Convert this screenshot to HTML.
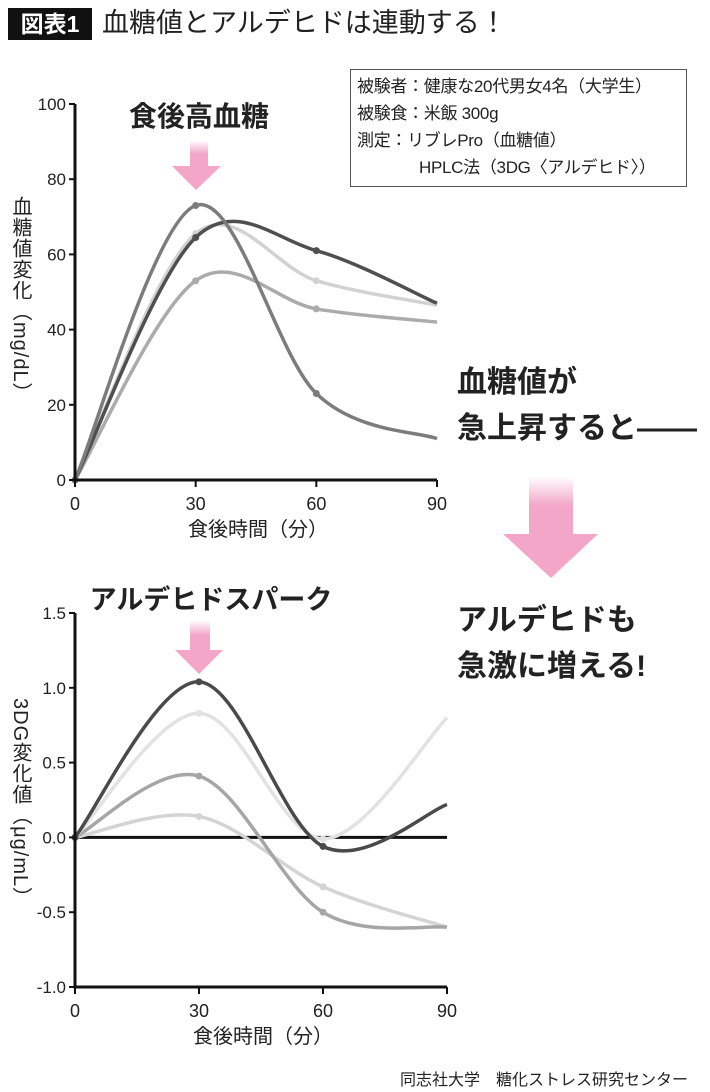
<!DOCTYPE html>
<html><head><meta charset="utf-8">
<style>
html,body{margin:0;padding:0;background:#fff;}
body{width:710px;height:1092px;position:relative;overflow:hidden;font-family:"Liberation Sans","Noto Sans CJK JP",sans-serif;color:#222;}
.abs{position:absolute;white-space:nowrap;}
</style></head>
<body>
<div class="abs" style="left:8px;top:8px;width:84px;height:32px;background:#111;color:#fff;font-size:23px;font-weight:bold;line-height:32px;text-align:center;">図表1</div>
<div class="abs" style="left:102px;top:5px;font-size:27px;line-height:36px;color:#222;">血糖値とアルデヒドは連動する！</div>
<div class="abs" style="left:350px;top:69px;width:337px;height:118px;border:1px solid #555;box-sizing:border-box;font-size:17px;line-height:27px;padding:3px 0 0 6px;color:#222;letter-spacing:-0.3px;">
被験者：健康な20代男女4名（大学生）<br>被験食：米飯 300g<br>測定：リブレPro（血糖値）<br><span style="padding-left:62px">HPLC法（3DG〈アルデヒド〉）</span></div>
<div class="abs" style="left:457px;top:360px;font-size:30px;font-weight:bold;line-height:46px;">血糖値が<br>急上昇すると——</div>
<div class="abs" style="left:457px;top:598px;font-size:30px;font-weight:bold;line-height:46px;">アルデヒドも<br>急激に増える!</div>
<div class="abs" style="left:400px;top:1066px;font-size:16px;">同志社大学　糖化ストレス研究センター</div>
<svg id="svg" width="710" height="1092" style="position:absolute;left:0;top:0">
<defs>
<linearGradient id="pg" x1="0" y1="0" x2="0" y2="1"><stop offset="0" stop-color="#f3a6c8" stop-opacity="0"/><stop offset="0.5" stop-color="#f3a6c8" stop-opacity="1"/></linearGradient>
</defs>
<g id="top"></g><g id="bot"></g>
<g><rect x="190" y="140" width="18" height="28" fill="url(#pg)"/><polygon points="172,166 221,166 196,190" fill="#f3a6c8"/></g>
<g><rect x="190" y="620" width="20" height="31" fill="url(#pg)"/><polygon points="175,650 223,650 199,674" fill="#f3a6c8"/></g>
<g><rect x="529" y="476" width="44" height="60" fill="url(#pg)"/><polygon points="503,534 598,534 551,578" fill="#f3a6c8"/></g>
<text x="199" y="126" font-size="28" font-weight="bold" text-anchor="middle" fill="#222">食後高血糖</text>
<text x="211" y="609" font-size="27" font-weight="bold" text-anchor="middle" fill="#222">アルデヒドスパーク</text>
</svg>
<script>
const xCats=[0,30,60,90];
const topTicks=[0,20,40,60,80,100];
const topA=[0,64.5,61,47];
const topB=[0,73,23,11];
const topC=[0,65.5,53,46.5];
const topD=[0,53,45.5,42];
const botTicks=[-1.0,-0.5,0.0,0.5,1.0,1.5];
const botTickLabels=["-1.0","-0.5","0.0","0.5","1.0","1.5"];
const botA=[0,1.04,-0.06,0.22];
const botB=[0,0.83,-0.01,0.8];
const botC=[0,0.41,-0.5,-0.6];
const botD=[0,0.14,-0.33,-0.6];
const NS="http://www.w3.org/2000/svg";
function mk(tag,attrs,parent){const e=document.createElementNS(NS,tag);for(const k in attrs)e.setAttribute(k,attrs[k]);parent.appendChild(e);return e;}
function path(pts){let d="M"+pts[0][0]+","+pts[0][1];for(let i=0;i<pts.length-1;i++){const p0=pts[Math.max(0,i-1)],p1=pts[i],p2=pts[i+1],p3=pts[Math.min(pts.length-1,i+2)];const c1=[p1[0]+(p2[0]-p0[0])/6,p1[1]+(p2[1]-p0[1])/6];const c2=[p2[0]-(p3[0]-p1[0])/6,p2[1]-(p3[1]-p1[1])/6];d+=" C"+c1+" "+c2+" "+p2;}return d;}
function chart(g,cfg){
  const X=v=>cfg.x0+(v-0)/90*(cfg.x1-cfg.x0);
  const Y=v=>cfg.yb+(v-cfg.ymin)/(cfg.ymax-cfg.ymin)*(cfg.yt-cfg.yb);
  if(cfg.zero){const z=mk('line',{x1:X(0),x2:cfg.x1,y1:Y(0),y2:Y(0),stroke:'#111','stroke-width':3},g);}
  cfg.series.forEach((s,si)=>{
    const pts=s.vals.map((v,i)=>[X(xCats[i]),Y(v)]);
    const p=mk('path',{d:path(pts),fill:'none',stroke:s.color,'stroke-width':3.5},g);
    
    
    pts.slice(0,3).forEach(q=>{const c=mk('circle',{cx:q[0],cy:q[1],r:3.5,fill:s.color},g);
      
      });
  });
  const ax=mk('path',{d:"M"+cfg.x0+","+cfg.yt+" V"+cfg.yb+" H"+cfg.x1,fill:'none',stroke:'#111','stroke-width':3},g);
  
  
  cfg.ticks.forEach((t,i)=>{mk('line',{x1:cfg.x0-6,x2:cfg.x0,y1:Y(t),y2:Y(t),stroke:'#111','stroke-width':2},g);
    const tx=mk('text',{x:cfg.x0-9,y:Y(t)+6,'font-size':17,'text-anchor':'end',fill:'#222'},g);tx.textContent=cfg.tickLabels[i];
    
    });
  xCats.forEach(c=>{mk('line',{x1:X(c),x2:X(c),y1:cfg.yb,y2:cfg.yb+7,stroke:'#111','stroke-width':2},g);
    const tx=mk('text',{x:X(c),y:cfg.yb+30,'font-size':18,'text-anchor':'middle',fill:'#222'},g);tx.textContent=c;
    
    });
  const xt=mk('text',{x:(cfg.x0+cfg.x1)/2+2,y:cfg.yb+56,'font-size':20,'text-anchor':'middle',fill:'#222'},g);xt.textContent='食後時間（分）';
  
  
  const yt=mk('text',{x:0,y:0,'font-size':20,fill:'#222','writing-mode':'tb','letter-spacing':cfg.ls,transform:'translate('+cfg.ytx+','+cfg.yty+')'},g);yt.textContent=cfg.ytitle;
  
  
}
chart(document.getElementById('top'),{x0:75,x1:437,yb:480,yt:104,ymin:0,ymax:100,ticks:topTicks,tickLabels:topTicks.map(String),zero:false,ytitle:'血糖値変化（mg/dL）',ytx:20,yty:196,ls:1,
 series:[{vals:topD,color:'#ababab'},{vals:topC,color:'#d2d2d2'},{vals:topA,color:'#4f4f4f'},{vals:topB,color:'#7c7c7c'}]});
chart(document.getElementById('bot'),{x0:75,x1:447,yb:987,yt:613,ymin:-1,ymax:1.5,ticks:botTicks,tickLabels:botTickLabels,zero:true,ytitle:'3DG変化値（μg/mL）',ytx:20,yty:698,ls:1,
 series:[{vals:botD,color:'#d4d4d4'},{vals:botC,color:'#a6a6a6'},{vals:botB,color:'#e2e2e2'},{vals:botA,color:'#4a4a4a'}]});
</script>
</body></html>
